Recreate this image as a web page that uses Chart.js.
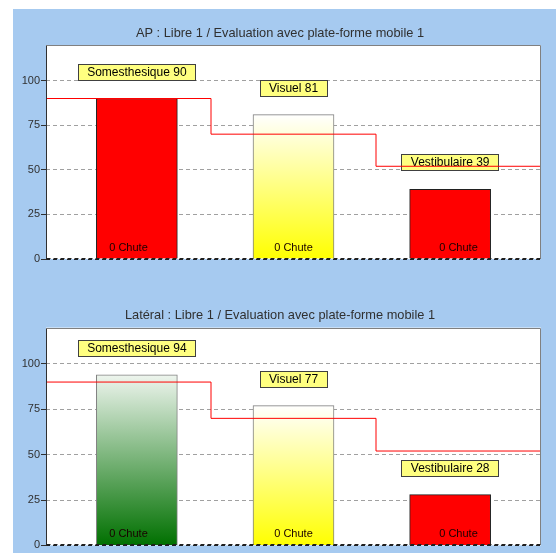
<!DOCTYPE html>
<html><head><meta charset="utf-8">
<script src="https://cdn.jsdelivr.net/npm/chart.js@4"></script>
<style>
html,body{margin:0;padding:0;background:#fff;width:556px;height:553px;overflow:hidden}
#panel{position:absolute;left:13px;top:9px;width:543px;height:544px;background:#a6caf0}
canvas{position:absolute;left:0}
#c1{top:0}
#c2{top:280px}
</style></head><body>
<div id="panel"></div>
<canvas id="c1" width="556" height="280"></canvas>
<canvas id="c2" width="556" height="273"></canvas>
<script>
// ---- data ----
const categories = ['Somesthesique', 'Visuel', 'Vestibulaire'];
const apValues = [90, 81, 39];
const latValues = [94, 77, 28];
const apReference = [90, 70, 52];
const latReference = [90, 70, 52];
const apChutes = [0, 0, 0];
const latChutes = [0, 0, 0];
const yTicks = [0, 25, 50, 75, 100];
const apTitle = 'AP : Libre 1 / Evaluation avec plate-forme mobile 1';
const latTitle = 'Latéral : Libre 1 / Evaluation avec plate-forme mobile 1';
// ---- styles ----
const apFills = ['red', 'yellow', 'red'];
const latFills = ['green', 'yellow', 'red'];
const FONT = '"Liberation Sans", Arial, sans-serif';

function barFill(kind, chart, value) {
  if (kind === 'red') return '#ff0000';
  const ys = chart.scales && chart.scales.y;
  if (!ys || !chart.chartArea) return kind === 'yellow' ? '#ffff80' : '#60a860';
  const top = ys.getPixelForValue(value), bottom = ys.getPixelForValue(0);
  const g = chart.ctx.createLinearGradient(0, top, 0, bottom);
  if (kind === 'yellow') { g.addColorStop(0, '#ffffff'); g.addColorStop(1, '#ffff00'); }
  else { g.addColorStop(0, '#eef5ee'); g.addColorStop(1, '#007000'); }
  return g;
}

const areaBg = {
  id: 'areaBg',
  beforeDraw(chart) {
    const a = chart.chartArea, ctx = chart.ctx;
    ctx.save(); ctx.fillStyle = '#ffffff';
    ctx.fillRect(a.left, a.top, a.right - a.left, a.bottom - a.top);
    ctx.restore();
  }
};

const frame = {
  id: 'frame',
  afterDraw(chart) {
    const a = chart.chartArea, ctx = chart.ctx;
    const l = Math.round(a.left) + 0.5, r = Math.round(a.right) - 0.5;
    const t = Math.round(a.top) + 0.5, b = Math.round(a.bottom) - 0.5;
    ctx.save(); ctx.lineWidth = 1;
    ctx.strokeStyle = '#808080';
    ctx.beginPath(); ctx.moveTo(l, t); ctx.lineTo(r, t); ctx.lineTo(r, b); ctx.stroke();
    ctx.strokeStyle = '#303030';
    ctx.beginPath(); ctx.moveTo(l, t); ctx.lineTo(l, b + 1); ctx.stroke();
    ctx.setLineDash([4, 3]);
    ctx.strokeStyle = '#202020';
    ctx.beginPath(); ctx.moveTo(l, b); ctx.lineTo(r, b); ctx.stroke();
    ctx.restore();
  }
};

const barLabels = {
  id: 'barLabels',
  afterDatasetDraw(chart, args, opts) {
    if (args.index !== 0) return;
    const ctx = chart.ctx;
    const ds = chart.data.datasets[0].data;
    const x2 = chart.scales.x2;
    ctx.save();
    args.meta.data.forEach((el, i) => {
      const text = categories[i] + ' ' + ds[i].y;
      ctx.font = '12px ' + FONT;
      const w = Math.round(ctx.measureText(text).width + 19);
      const h = 17;
      const x = Math.round(el.x - w / 2);
      const yb = Math.round(el.y - 18);
      ctx.fillStyle = '#ffff80';
      ctx.fillRect(x, yb - h, w, h);
      ctx.strokeStyle = '#404040'; ctx.lineWidth = 1;
      ctx.strokeRect(x + 0.5, yb - h + 0.5, w - 1, h - 1);
      ctx.fillStyle = '#000';
      ctx.textAlign = 'center'; ctx.textBaseline = 'middle';
      ctx.fillText(text, el.x, yb - h / 2 + 0.5);
      ctx.font = '11px ' + FONT;
      ctx.fillStyle = '#1a0000';
      ctx.fillText(opts.chutes[i] + ' Chute', x2.getPixelForValue(i + 0.5), el.base - 11);
    });
    ctx.restore();
  }
};

function makeChart(id, title, values, reference, chutes, fills, pad, titlePad) {
  const barData = values.map((v, i) => ({ x: i, y: v }));
  const lineData = reference.map((v, i) => ({ x: i, y: v }));
  lineData.push({ x: reference.length, y: reference[reference.length - 1] });
  return new Chart(document.getElementById(id), {
    type: 'bar',
    data: {
      datasets: [
        {
          type: 'bar', data: barData, xAxisID: 'x', yAxisID: 'y', order: 2,
          grouped: false, barThickness: 81, borderWidth: 1,
          backgroundColor: (c) => barFill(fills[c.dataIndex], c.chart, values[c.dataIndex]),
          borderColor: (c) => fills[c.dataIndex] === 'red' ? '#202020' : '#808080'
        },
        {
          type: 'line', data: lineData, xAxisID: 'x2', yAxisID: 'y', order: 1,
          stepped: true, borderColor: '#ff0000', borderWidth: 1, pointRadius: 0, fill: false
        }
      ]
    },
    options: {
      responsive: false, animation: false,
      layout: { padding: pad },
      plugins: {
        legend: { display: false }, tooltip: { enabled: false },
        title: { display: true, text: title, color: '#303030',
          font: { family: FONT, size: 12.8, weight: 'normal', lineHeight: 1 },
          padding: { top: 0, bottom: titlePad } },
        barLabels: { chutes: chutes }
      },
      scales: {
        x: { type: 'linear', min: -0.58, max: 2.58, offset: false, display: false,
             afterBuildTicks: (s) => { s.ticks = categories.map((c, i) => ({ value: i })); } },
        x2: { type: 'linear', min: 0, max: 3, offset: false, display: false },
        y: {
          min: 0, max: 120,
          afterBuildTicks: (s) => { s.ticks = yTicks.map(v => ({ value: v })); },
          afterFit: (s) => { s.width = 27; },
          ticks: { color: '#303030', font: { family: FONT, size: 11 }, padding: 1 },
          grid: {
            color: (c) => c.tick && c.tick.value === 0 ? '#202020' : '#a0a0a0',
            tickColor: '#303030', tickLength: 5, tickBorderDash: [], drawTicks: true
          },
          border: { display: false, dash: [4, 3] }
        }
      }
    },
    plugins: [areaBg, barLabels, frame]
  });
}

makeChart('c1', apTitle, apValues, apReference, apChutes, apFills,
  { top: 26.6, left: 19, right: 15, bottom: 21 }, 5.6);
makeChart('c2', latTitle, latValues, latReference, latChutes, latFills,
  { top: 28.6, left: 19, right: 15, bottom: 7.3 }, 6.2);
</script>
</body></html>
